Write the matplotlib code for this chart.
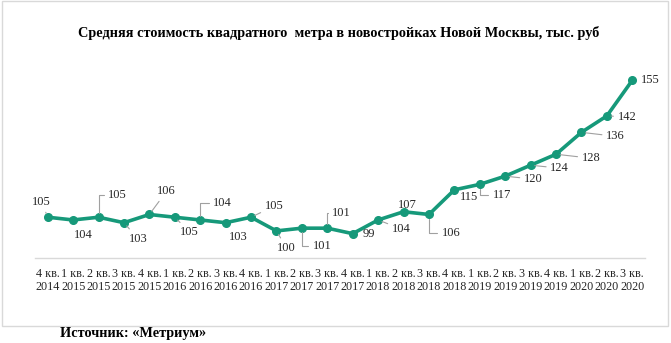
import matplotlib
matplotlib.use('Agg')
import matplotlib.pyplot as plt
from matplotlib.patches import Rectangle

# === DATA ===
quarters = ['4 кв.'] + ['1 кв.', '2 кв.', '3 кв.', '4 кв.'] * 5 + ['1 кв.', '2 кв.', '3 кв.']
years = ['2014'] + ['2015'] * 4 + ['2016'] * 4 + ['2017'] * 4 + ['2018'] * 4 + ['2019'] * 4 + ['2020'] * 3
prices = [105, 104, 105, 103, 106, 105, 104, 103, 105, 100, 101, 101,
          99, 104, 107, 106, 115, 117, 120, 124, 128, 136, 142, 155]

title = 'Средняя стоимость квадратного  метра в новостройках Новой Москвы, тыс. руб'
source = 'Источник: «Метриум»'

# label offsets in pixels (dx, dy) and leader line type
label_offsets = [(-6, 15, True), (10, -15, False), (19, 22, 'angle'), (14, -16, True),
                 (17, 23, True), (15, -15, True), (22, 17, 'angle'), (13, -14, False),
                 (23, 11, True), (10, -17, True), (20, -18, 'angle'), (14, 15, 'angle'),
                 (16, 0, False), (23, -9, True), (4, 7, False), (22, -19, 'angle'),
                 (15, -7, False), (22, -11, 'angle'), (28, -3, True), (29, -3, True),
                 (35, -4, True), (34, -4, True), (20, -1, True), (18, 0, False)]

green = '#16997a'
serif = ['Liberation Serif', 'DejaVu Serif']

fig = plt.figure(figsize=(6.71, 3.43), dpi=100)
fig.patches.append(Rectangle((2 / 671, 1 - 326 / 343), 666 / 671, 325 / 343,
                             transform=fig.transFigure, fill=False,
                             edgecolor='#d9d9d9', linewidth=1))
ax = fig.add_axes([35 / 671, (343 - 258.3) / 343, 610 / 671, 191.7 / 343])

x = list(range(len(prices)))
ax.plot(x, prices, color=green, linewidth=2.6, marker='o', markersize=5.5, zorder=3)

for i, (v, off) in enumerate(zip(prices, label_offsets)):
    dx, dy, leader = off
    if leader == 'angle':
        arrow = dict(arrowstyle='-', color='#a0a0a0', lw=0.8,
                     connectionstyle='angle,angleA=0,angleB=90,rad=0',
                     shrinkA=1, shrinkB=3)
    elif leader:
        arrow = dict(arrowstyle='-', color='#a0a0a0', lw=0.8, shrinkA=1, shrinkB=3)
    else:
        arrow = None
    ax.annotate(str(v), (i, v), xytext=(dx, dy), textcoords='offset pixels',
                ha='center', va='center', fontsize=9, family=serif,
                color='#262626', arrowprops=arrow, zorder=4)

ax.set_xlim(-0.5, len(prices) - 0.5)
ax.set_ylim(90, 160)
ax.set_xticks(x)
ax.set_xticklabels([q + '\n' + y for q, y in zip(quarters, years)],
                   fontsize=8.7, family=serif, color='#262626', linespacing=1.15)
ax.tick_params(axis='x', length=0, pad=7)
ax.set_yticks([])
for side in ['left', 'right', 'top']:
    ax.spines[side].set_visible(False)
ax.spines['bottom'].set_color('#d9d9d9')
ax.spines['bottom'].set_linewidth(1)
ax.patch.set_alpha(0)

fig.text(339 / 671, 1 - 33 / 343, title, ha='center', va='center',
         fontsize=10.3, fontweight='bold', family=serif)
fig.text(60 / 671, 1 - 334 / 343, source, ha='left', va='center',
         fontsize=10.3, fontweight='bold', family=serif)

fig.savefig('out.png', dpi=100)
